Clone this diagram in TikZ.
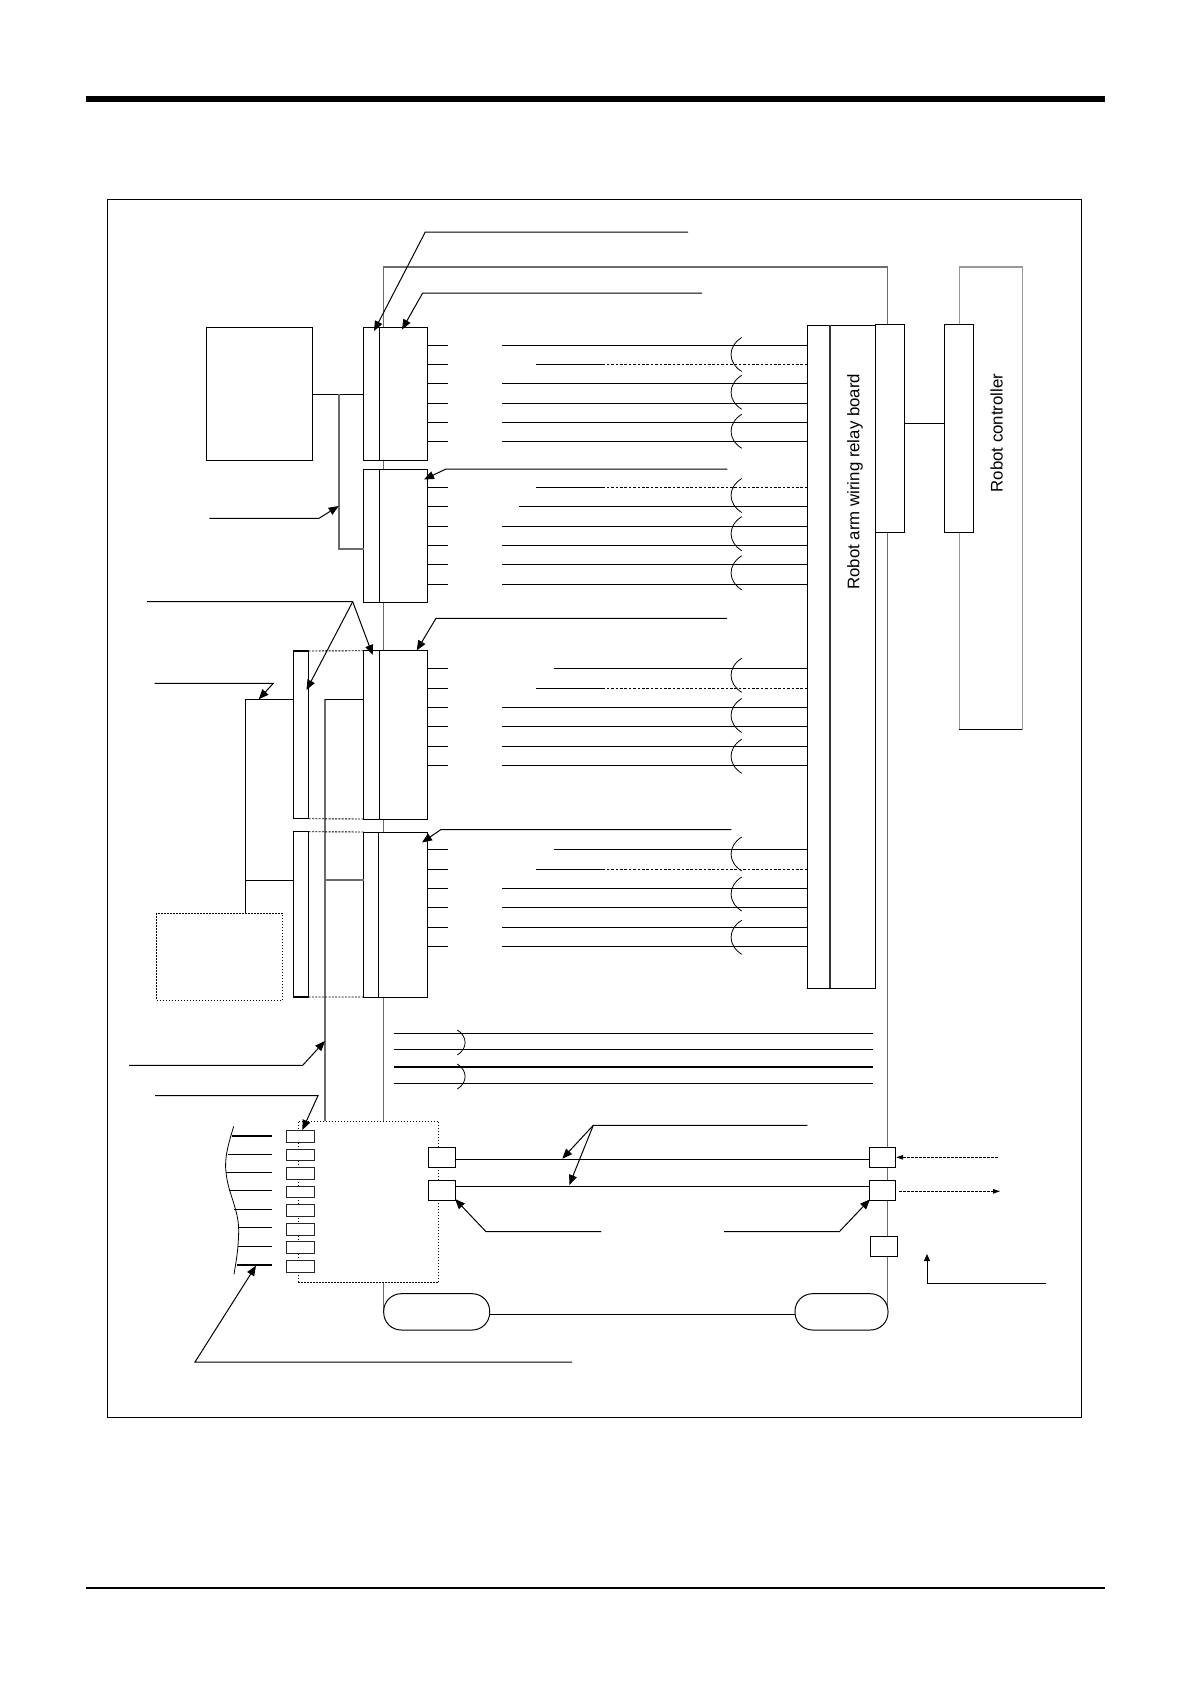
\documentclass[tikz,border=0pt]{standalone}
\usepackage{fontspec}
\setmainfont{Liberation Sans}
\usetikzlibrary{arrows.meta}
\definecolor{midgray}{gray}{0.42}
\definecolor{lightgr}{gray}{0.6}
\tikzset{
  plainbox/.style={draw=black,fill=white,line width=1pt,inner sep=0pt,outer sep=0pt},
  softbox/.style={plainbox,draw=black!85},
  dotbox/.style={draw=black,line width=1pt,dash pattern=on 1.5pt off 1.5pt,inner sep=0pt,outer sep=0pt},
  capsule/.style={plainbox,rounded corners=17.5pt},
  wire/.style={draw=black,line width=1pt},
  graywire/.style={draw=midgray,line width=1.1pt},
  fine/.style={draw=black,line width=0.8pt},
  dashwire/.style={draw=black,line width=0.9pt,dash pattern=on 2.6pt off 1.8pt},
  lead/.style={draw=black,line width=1pt,-{Triangle[length=10pt,width=8pt]}},
  smallarrow/.style={draw=black,line width=0.9pt,dash pattern=on 2.6pt off 1.4pt,-{Triangle[length=7pt,width=4.5pt]}},
  label/.style={inner sep=0pt,rotate=90,font=\fontsize{16.8}{20}\selectfont}
}
\newcommand{\pxbox}[6][plainbox]{\node[#1,minimum width={(#5-#3)*1pt},minimum height={(#6-#4)*1pt},at={({(#3+#5)/2},{(#4+#6)/2})}] (#2) {};}
\begin{document}
\begin{tikzpicture}[x=1pt,y=-1pt]
\useasboundingbox (0,0) rectangle (1190,1684);
\fill[white] (0,0) rectangle (1190,1684);
% page rules
\coordinate (ruleA) at (86,99);\coordinate (ruleB) at (1105,99);
\coordinate (ruleC) at (86,1588);\coordinate (ruleD) at (1105,1588);
\draw[black,line width=6pt] (ruleA) -- (ruleB);
\draw[black,line width=2.2pt] (ruleC) -- (ruleD);
\pxbox[plainbox]{frame}{107.3}{199.3}{1081.7}{1417.3}
% enclosures (behind everything)
\coordinate (encTL) at (383.7,267);\coordinate (encTR) at (887.7,267);
\coordinate (encBL) at (383.7,1310);\coordinate (encBR) at (887.7,1313);
\draw[graywire] (encBL) -- (encTL) -- (encTR) -- (encBR);
\pxbox[draw=lightgr,line width=1.1pt,inner sep=0pt,outer sep=0pt]{ctrl}{959.3}{267}{1022.3}{729.3}
\coordinate (ctrlBL) at (ctrl.south west);\coordinate (ctrlBR) at (ctrl.south east);
\draw[black,line width=1pt] (ctrlBL) -- (ctrlBR);
% dotted boxes
\pxbox[dotbox]{dashA}{156.7}{913.3}{282.7}{1000.3}
\coordinate (trunkTop) at (325,699.3);
\pxbox[dotbox,fill=white]{dashB}{298}{1121}{438.7}{1282.7}
\draw[graywire] (trunkTop) -- (trunkTop|-dashB.north);
% boxes
\pxbox{cpu}{206.3}{327}{312.3}{460}
\pxbox{boxA}{363.7}{327.3}{427.3}{460}
\pxbox{boxB}{363.7}{469.7}{427.3}{602.3}
\pxbox{boxC}{363.7}{650.7}{427.3}{819}
\pxbox{boxD}{363.7}{832}{427.3}{997}
\pxbox[plainbox,line width=1.3pt]{barC}{293.3}{651}{308.7}{818.7}
\pxbox[plainbox,line width=1.3pt]{barD}{293.3}{831.7}{308.7}{997}
\pxbox{relay}{807.3}{325}{875.3}{988.3}
\pxbox{tabR}{875.3}{324.3}{904.3}{532.3}
\pxbox{tabC}{944.3}{324.3}{973.7}{532.3}
% dividers
\draw[wire] (379.3,0|-boxA.north) -- (379.3,0|-boxA.south);
\draw[wire] (379.3,0|-boxB.north) -- (379.3,0|-boxB.south);
\draw[wire] (379.3,0|-boxC.north) -- (379.3,0|-boxC.south);
\draw[wire] (378.7,0|-boxD.north) -- (378.7,0|-boxD.south);
\draw[draw=black!80,line width=1.3pt] (830,0|-relay.north) -- (830,0|-relay.south);
% cpu and branch
\coordinate (br) at (339,394.3);
\draw[wire] (cpu.east|-br) -- (boxA.west|-br);
\coordinate (brLow) at (339,549);
\draw[graywire] (br) -- (brLow) -- (boxB.west|-brLow);
\draw[wire] (tabR.east|-0,423.7) -- (tabC.west|-0,423.7);
% left wiring
\coordinate (sideTop) at (245.3,699.3);\coordinate (sideMid) at (245.3,880);
\draw[wire] (barC.west|-sideTop) -- (sideTop) -- (sideTop|-dashA.north);
\draw[wire] (sideMid) -- (barD.west|-sideMid);
\draw[wire] (trunkTop) -- (boxC.west|-trunkTop);
\draw[graywire] (trunkTop|-sideMid) -- (boxD.west|-sideMid);
\foreach \p/\q/\r in {barC/boxC/north,barC/boxC/south,barD/boxD/north,barD/boxD/south}{
  \draw[draw=black,line width=0.9pt,dash pattern=on 2pt off 1.3pt] (\p.\r\space east) -- (\q.\r\space west);
}
% stubs and wires
\foreach \b/\ys in {boxA/{345,383.7,403,422.3,441.7,364.3},boxB/{487,506.3,526,545.3,564.7,584},boxC/{668.7,688,707.3,726.7,746.3,765.7},boxD/{849.7,869,888.3,907.7,927,946.3}}{
  \foreach \y in \ys { \draw[wire] (\b.east|-0,\y) -- ++(20.4,0); }
}
\foreach \y in {345,383.7,403,422.3,441.7,526,545.3,564.7,584,707.3,726.7,746.3,765.7,888.3,907.7,927,946.3}{
  \draw[wire] (relay.west|-0,\y) -- ++(-305.3,0);
}
\draw[wire] (relay.west|-0,506.3) -- ++(-288.6,0);
\foreach \y in {668.7,849.7}{ \draw[wire] (relay.west|-0,\y) -- ++(-253.6,0); }
\foreach \y in {364.3,487,688,869}{
  \draw[wire] (relay.west|-0,\y) ++(-271.3,0) -- ++(69,0);
  \draw[dashwire] (relay.west|-0,\y) -- ++(-202,0);
}
\foreach \c in {354.5,392.3,431.3,495.5,533.7,572.8,675.3,715.5,756.3,854,894,937.3}{
  \draw[fine] (741.7,\c-17) .. controls (727.5,\c-8) and (727.5,\c+8) .. (741.7,\c+17);
}
% lower bundle
\coordinate (lowL) at (394,0);\coordinate (lowR) at (872.7,0);
\foreach \y/\w in {1033.3/1pt,1049.3/1pt,1067/1.8pt,1083.3/1pt}{
  \draw[draw=black,line width=\w] (lowL|-0,\y) -- (lowR|-0,\y);
}
\foreach \c in {1042.5,1076.5}{
  \draw[fine] (457.3,\c-12.5) .. controls (467.7,\c-6) and (467.7,\c+6) .. (457.3,\c+12.5);
}
% I/O connectors
\foreach \i/\a/\b in {1/1130.3/1142.3,2/1149/1160.7,3/1167.3/1179.3,4/1186/1197.7,5/1204.7/1216.3,6/1223.3/1235,7/1241.7/1253.7,8/1260.3/1272.3}{
  \pxbox[softbox]{io\i}{286.3}{\a}{314.3}{\b}
}
\foreach \y/\s/\w in {1136/232/1.8pt,1154.3/227.7/1pt,1172.3/226/1pt,1190.3/229/1pt,1209.3/234.3/1pt,1227.3/238.3/1pt,1246.3/238.3/1pt,1265/237/1.8pt}{
  \draw[draw=black,line width=\w] (\s,\y) -- (272,\y);
}
\draw[fine] (233.7,1126.3) .. controls (229,1142) and (224,1158) .. (226,1172) .. controls (228,1195) and (240,1210) .. (238.6,1235) .. controls (238,1252) and (236,1262) .. (234,1274.3);
% squares
\pxbox{sqA}{428.3}{1147.3}{455}{1167.7}
\pxbox{sqB}{428.3}{1180.3}{455}{1200.7}
\pxbox{sqC}{869.3}{1147.3}{895.7}{1167.7}
\pxbox{sqD}{869.3}{1180.3}{895.7}{1200.7}
\pxbox{sqE}{870.3}{1236.3}{897}{1256.7}
\draw[wire] (sqA.east|-0,1159.3) -- (sqC.west|-0,1159.3);
\draw[wire] (sqB.east|-0,1186.3) -- (sqD.west|-0,1186.3);
% capsules
\pxbox[capsule]{capL}{383.7}{1293.7}{489.7}{1330}
\pxbox[capsule]{capR}{795}{1293.7}{888}{1330}
\draw[wire] (capL.east|-0,1314.7) -- (capR.west|-0,1314.7);
% leaders
\coordinate (a1) at (688,232);\coordinate (a2) at (425.3,232);\coordinate (a3) at (374,331);
\draw[lead] (a1) -- (a2) -- (a3);
\coordinate (b1) at (702,293);\coordinate (b2) at (422.7,293);\coordinate (b3) at (402,329.5);
\draw[lead] (b1) -- (b2) -- (b3);
\coordinate (c1) at (727.3,469);\coordinate (c2) at (446,469);\coordinate (c3) at (424,479.5);
\draw[lead] (c1) -- (c2) -- (c3);
\coordinate (d1) at (727,618.3);\coordinate (d2) at (436,618.3);\coordinate (d3) at (416.7,650.5);
\draw[lead] (d1) -- (d2) -- (d3);
\coordinate (e1) at (731.3,829.5);\coordinate (e2) at (441,829.5);\coordinate (e3) at (422,842.5);
\draw[lead] (e1) -- (e2) -- (e3);
\coordinate (f1) at (209.3,518.3);\coordinate (f2) at (319,518.3);\coordinate (f3) at (338.7,506);
\draw[lead] (f1) -- (f2) -- (f3);
\coordinate (g1) at (147,601.7);\coordinate (g2) at (352.7,601.7);\coordinate (g3) at (372.7,655);\coordinate (g4) at (306.5,690);
\draw[lead] (g1) -- (g2) -- (g3);
\draw[lead] (g2) -- (g4);
\coordinate (h1) at (154.7,683.3);\coordinate (h2) at (273.3,683.3);\coordinate (h3) at (258.7,699.3);
\draw[lead] (h1) -- (h2) -- (h3);
\coordinate (i1) at (129,1065.3);\coordinate (i2) at (302.7,1065.3);\coordinate (i3) at (325,1041);
\draw[lead] (i1) -- (i2) -- (i3);
\coordinate (j1) at (155,1095.7);\coordinate (j2) at (318,1095.7);\coordinate (j3) at (302.3,1130);
\draw[lead] (j1) -- (j2) -- (j3);
\coordinate (k1) at (807.3,1125.3);\coordinate (k2) at (593.3,1125.3);\coordinate (k3) at (562.3,1158.7);\coordinate (k4) at (569.3,1185);
\draw[lead] (k1) -- (k2) -- (k3);
\draw[lead] (k2) -- (k4);
\coordinate (l1) at (601,1231.7);\coordinate (l2) at (486,1231.7);\coordinate (l3) at (455,1199);
\draw[lead] (l1) -- (l2) -- (l3);
\coordinate (m1) at (724,1231.7);\coordinate (m2) at (839.3,1231.7);\coordinate (m3) at (870,1199.3);
\draw[lead] (m1) -- (m2) -- (m3);
\coordinate (n1) at (572,1362);\coordinate (n2) at (195,1362);\coordinate (n3) at (256,1265.7);
\draw[lead] (n1) -- (n2) -- (n3);
\coordinate (o1) at (1045.7,1283.7);\coordinate (o2) at (927,1283.7);\coordinate (o3) at (927,1254);
\draw[lead,-{Triangle[length=7pt,width=6pt]}] (o1) -- (o2) -- (o3);
% signal arrows
\coordinate (p1) at (998,1157.3);\coordinate (q2) at (1000,1191.3);
\draw[smallarrow] (p1) -- ([xshift=0.5pt]sqC.east|-p1);
\draw[smallarrow] ([xshift=3.5pt]sqD.east|-q2) -- (q2);
% labels
\node[label] (tRelay) at (855,481.7) {Robot arm wiring relay board};
\node[label] (tCtrl) at (996.7,433) {Robot controller};
\end{tikzpicture}
\end{document}
